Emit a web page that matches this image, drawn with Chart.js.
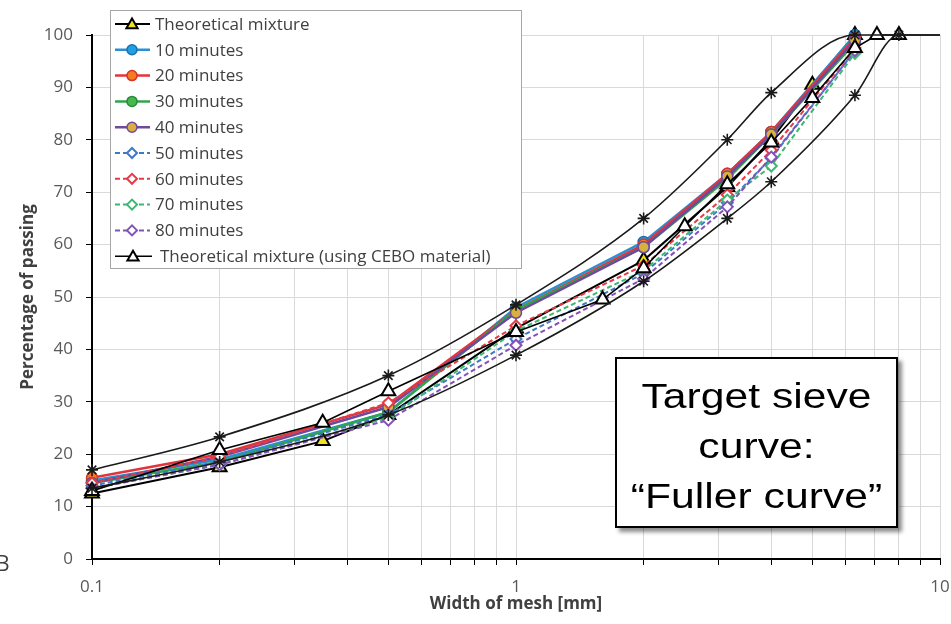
<!DOCTYPE html>
<html>
<head>
<meta charset="utf-8">
<script src="https://cdn.jsdelivr.net/npm/chart.js@4.4.1/dist/chart.umd.min.js"></script>
<style>
  html, body { margin: 0; padding: 0; background: #fff; }
  #wrap { position: relative; width: 951px; height: 624px; overflow: hidden; }
  #chart { position: absolute; left: 0; top: 0; }
  #note {
    position: absolute; left: 615px; top: 357px; width: 279px; height: 155px; padding-top: 12px;
    border: 2px solid #000; background: #fff; box-shadow: 4px 4px 4px rgba(0,0,0,0.45);
    font-family: "Liberation Sans", Arial, sans-serif; font-size: 35px; line-height: 50px;
    text-align: center; color: #000;
  }
  #note div { transform: scaleX(1.22); white-space: nowrap; }
  #cut { position: absolute; left: -4px; top: 553px; font: 21px/1 "Open Sans"; color: #404040; }
</style>
</head>
<body>
<div id="wrap">
  <canvas id="chart" width="951" height="624"></canvas>
  <div id="note"><div>Target sieve</div><div>curve:</div><div>“Fuller curve”</div></div>
  <span id="cut">B</span>
</div>
<script>
// --- axis ticks ---
const xGridValues = [0.1, 0.2, 0.3, 0.4, 0.5, 0.6, 0.7, 0.8, 0.9, 1, 2, 3, 4, 5, 6, 7, 8, 9, 10];
const xTickLabels = ['0.1', '1', '10'];
const yTickValues = [0, 10, 20, 30, 40, 50, 60, 70, 80, 90, 100];

// --- sieve sizes [mm] ---
const measuredSizes = [0.1, 0.2, 0.5, 1, 2, 3.15, 4, 6.3];
const theoSizes = [0.1, 0.2, 0.35, 0.5, 1, 2, 3.15, 4, 5, 6.3];
const ceboSizes = [0.1, 0.2, 0.35, 0.5, 1, 1.6, 2, 2.5, 3.15, 4, 5, 6.3, 7.1, 8];
const upperSizes = [0.1, 0.2, 0.5, 1, 2, 3.15, 4, 6.3, 10];
const lowerSizes = [0.1, 0.2, 0.5, 1, 2, 3.15, 4, 6.3, 8, 10];

// --- percentage passing ---
const theoretical = [12.5, 17.5, 22.5, 27.5, 44, 57, 71, 80, 90.5, 100];
const min10 = [15, 19, 28, 48, 60.5, 73.5, 81.5, 100];
const min20 = [15.5, 20, 29.5, 47.5, 60, 73.5, 81.5, 99.5];
const min30 = [14.5, 18.5, 28, 47.5, 59.5, 72.5, 81, 98.5];
const min40 = [14.5, 19.5, 29, 47, 59.5, 73, 81, 99];
const min50 = [14, 18.5, 27.5, 42, 54.5, 68, 76.5, 97];
const min60 = [14.5, 19.5, 29.8, 44.5, 56, 69.5, 78, 97.5];
const min70 = [13.5, 18, 27, 43.5, 55, 68.5, 75, 96.5];
const min80 = [13.5, 18, 26.5, 40.8, 53.5, 67.2, 76.7, 97];
const cebo = [13, 20.8, 26, 32, 43.3, 49.5, 55.5, 63.5, 71.5, 79.5, 88, 97.5, 100, 100];
const fullerUpper = [17, 23.3, 35, 48.5, 65, 80, 89, 100, 100];
const fullerLower = [13.5, 18.5, 27.5, 38.9, 53, 65, 72, 88.5, 100, 100];

function pts(xs, ys) {
    return xs.map((x, i) => ({ x: x, y: ys[i] }));
}

function solid(label, data, line, fill, edge) {
    return {
        label, data, inLegend: true,
        borderColor: line, borderWidth: 2.5,
        pointStyle: 'circle', pointRadius: 5.5,
        pointBackgroundColor: fill, pointBorderColor: edge, pointBorderWidth: 1.5
    };
}

function dashed(label, data, color) {
    return {
        label, data, inLegend: true,
        borderColor: color, borderWidth: 2, borderDash: [5, 3],
        pointStyle: 'rectRot', pointRadius: 5.5,
        pointBackgroundColor: '#fff', pointBorderColor: color, pointBorderWidth: 2
    };
}

function envelope(label, data) {
    return {
        label, data, inLegend: false,
        borderColor: '#1a1a1a', borderWidth: 1.6, cubicInterpolationMode: 'monotone',
        pointStyle: 'star', pointRadius: ctx => (ctx.raw && ctx.raw.x >= 10 ? 0 : 6),
        pointBorderColor: '#1a1a1a', pointBorderWidth: 1.6, pointBackgroundColor: '#1a1a1a'
    };
}

const datasets = [
    {
        label: 'Theoretical mixture', data: pts(theoSizes, theoretical), inLegend: true,
        borderColor: '#000', borderWidth: 2,
        pointStyle: 'triangle', pointRadius: 8,
        pointBackgroundColor: '#efe21e', pointBorderColor: '#000', pointBorderWidth: 2
    },
    solid('10 minutes', pts(measuredSizes, min10), '#2b8fd3', '#1ea0e2', '#1f6fb0'),
    solid('20 minutes', pts(measuredSizes, min20), '#e2343c', '#f47c20', '#d8322a'),
    solid('30 minutes', pts(measuredSizes, min30), '#2fa64a', '#46b84e', '#2a8a3c'),
    solid('40 minutes', pts(measuredSizes, min40), '#6f4a9a', '#d8b040', '#6f4a9a'),
    dashed('50 minutes', pts(measuredSizes, min50), '#3f78c8'),
    dashed('60 minutes', pts(measuredSizes, min60), '#e63a46'),
    dashed('70 minutes', pts(measuredSizes, min70), '#3cb870'),
    dashed('80 minutes', pts(measuredSizes, min80), '#8452b6'),
    {
        label: 'Theoretical mixture (using CEBO material)', data: pts(ceboSizes, cebo), inLegend: true,
        borderColor: '#000', borderWidth: 1.6,
        pointStyle: 'triangle', pointRadius: 8,
        pointBackgroundColor: '#fff', pointBorderColor: '#000', pointBorderWidth: 2
    },
    envelope('Upper limit', pts(upperSizes, fullerUpper)),
    envelope('Lower limit', pts(lowerSizes, fullerLower))
];
// later series are painted over earlier ones, as in the spreadsheet
datasets.forEach((ds, i) => { ds.clip = false; ds.fill = false; ds.order = -i; });

// --- legend drawn inside the plot, top left ---
const legendBox = {
    id: 'legendBox',
    afterDraw(chart) {
        const ctx = chart.ctx;
        const items = chart.data.datasets.filter(ds => ds.inLegend);
        ctx.save();
        ctx.fillStyle = '#fff';
        ctx.strokeStyle = '#a6a6a6';
        ctx.lineWidth = 1;
        ctx.fillRect(110.5, 10.5, 411, 258);
        ctx.strokeRect(110.5, 10.5, 411, 258);
        items.forEach((ds, i) => {
            const y = 24 + i * 25.8;
            const last = i === items.length - 1;
            ctx.setLineDash(ds.borderDash || []);
            ctx.strokeStyle = ds.borderColor;
            ctx.lineWidth = ds.borderWidth;
            ctx.beginPath();
            ctx.moveTo(115, y);
            ctx.lineTo(last ? 152 : 150, y);
            ctx.stroke();
            ctx.setLineDash([]);
            ctx.fillStyle = ds.pointBackgroundColor;
            ctx.strokeStyle = ds.pointBorderColor;
            ctx.lineWidth = ds.pointBorderWidth;
            const r = ds.pointStyle === 'triangle' ? 6.5 : 5;
            Chart.helpers.drawPoint(ctx, { pointStyle: ds.pointStyle, radius: r, rotation: 0, borderWidth: ds.pointBorderWidth }, last ? 133 : 132, y + (ds.pointStyle === 'triangle' ? 1 : 0));
            ctx.fillStyle = '#404040';
            ctx.font = '17px "Open Sans"';
            ctx.textBaseline = 'middle';
            ctx.textAlign = 'left';
            ctx.fillText(ds.label, last ? 160 : 155, y + 1);
        });
        ctx.restore();
    }
};

function xLabel(value) {
    const hit = xTickLabels.find(t => Math.abs(Number(t) - value) < 1e-9 * Math.max(1, value));
    return hit || '';
}

const tickFont = { family: 'Open Sans', size: 17 };
const titleFont = { family: 'Open Sans', size: 17, weight: 'bold' };

new Chart(document.getElementById('chart').getContext('2d'), {
    type: 'line',
    data: { datasets },
    options: {
        responsive: false,
        animation: false,
        events: [],
        layout: { padding: { left: 0, right: 11, top: 35, bottom: 0 } },
        elements: { line: { tension: 0 } },
        plugins: { legend: { display: false }, tooltip: { enabled: false } },
        scales: {
            x: {
                type: 'logarithmic', min: 0.1, max: 10,
                afterBuildTicks: s => { s.ticks = xGridValues.map(v => ({ value: v })); },
                afterFit: s => { s.height = 65; s.paddingLeft = 0; s.paddingRight = 0; },
                grid: { color: '#d9d9d9', lineWidth: 1, tickColor: '#000', tickLength: 6 },
                border: { color: '#000', width: 2 },
                ticks: { autoSkip: false, maxRotation: 0, padding: 12, color: '#595959', font: tickFont, callback: v => xLabel(v) },
                title: { display: true, text: 'Width of mesh [mm]', color: '#404040', font: titleFont, padding: { top: 0, bottom: 10 } }
            },
            y: {
                min: 0, max: 100,
                afterBuildTicks: s => { s.ticks = yTickValues.map(v => ({ value: v })); },
                afterFit: s => { s.width = 92; },
                grid: { color: '#d9d9d9', lineWidth: 1, tickColor: '#000', tickLength: 6 },
                border: { color: '#000', width: 2 },
                ticks: { padding: 13, color: '#595959', font: tickFont },
                title: { display: true, text: 'Percentage of passing', color: '#404040', font: titleFont, padding: { top: 18, bottom: 0 } }
            }
        }
    },
    plugins: [legendBox]
});
</script>
</body>
</html>
